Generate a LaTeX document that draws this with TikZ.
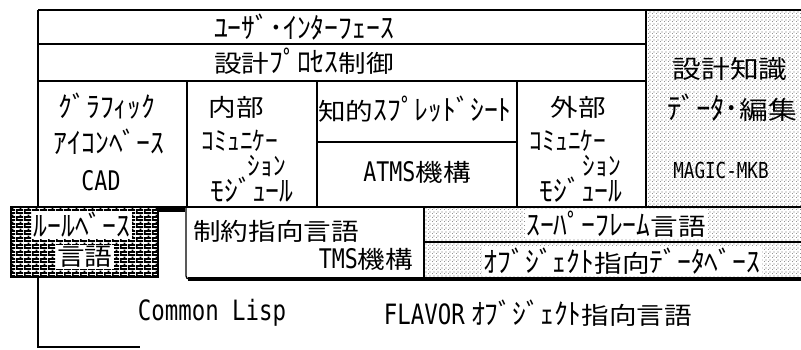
\documentclass[tikz,border=0pt]{standalone}
\usepackage{fontspec}
\usetikzlibrary{patterns}
\newfontfamily\jp[FakeStretch=1.15]{Noto Sans CJK JP}
\newfontfamily\kana[Scale=1.2,FakeStretch=0.96]{Noto Sans CJK JP}
\newfontfamily\lt[FakeStretch=0.8]{DejaVu Sans Mono}
\newcommand\jfs[1]{\jp\fontsize{#1}{#1}\selectfont}
\newcommand\lfs[1]{\lt\fontsize{#1}{#1}\selectfont}
\newcommand\K[1]{{\kana #1}}
\pgfdeclarepatternformonly{sdots}{\pgfqpoint{0pt}{0pt}}{\pgfqpoint{4pt}{4pt}}{\pgfqpoint{4pt}{4pt}}{%
  \pgfpathrectangle{\pgfqpoint{0pt}{0pt}}{\pgfqpoint{0.9pt}{0.9pt}}%
  \pgfpathrectangle{\pgfqpoint{2pt}{2pt}}{\pgfqpoint{0.9pt}{0.9pt}}%
  \pgfusepath{fill}}
\pgfdeclarepatternformonly{brk}{\pgfqpoint{0pt}{0pt}}{\pgfqpoint{8pt}{6.6pt}}{\pgfqpoint{8pt}{6.6pt}}{%
  \pgfsetlinewidth{1.9pt}%
  \pgfpathmoveto{\pgfqpoint{0pt}{0.95pt}}\pgfpathlineto{\pgfqpoint{8pt}{0.95pt}}%
  \pgfpathmoveto{\pgfqpoint{0pt}{4.25pt}}\pgfpathlineto{\pgfqpoint{8pt}{4.25pt}}%
  \pgfpathmoveto{\pgfqpoint{0.95pt}{0pt}}\pgfpathlineto{\pgfqpoint{0.95pt}{3.3pt}}%
  \pgfpathmoveto{\pgfqpoint{4.95pt}{3.3pt}}\pgfpathlineto{\pgfqpoint{4.95pt}{6.6pt}}%
  \pgfusepath{stroke}}
\tikzset{
  ln/.style={line width=1.3pt},
  thk/.style={line width=4pt},
  lbl/.style={inner sep=0pt, font=\jfs{24}},
  sml/.style={inner sep=0pt, font=\jfs{22}},
  wbg/.style={fill=white, inner sep=1.5pt},
}
\begin{document}
\begin{tikzpicture}[x=1pt,y=-1pt]
\useasboundingbox (0,0) rectangle (801,349);
% patterned areas
\fill[pattern=sdots] (646,10) rectangle (801,207);
\fill[pattern=sdots] (424,207) rectangle (801,277);
\fill[white] (11,207) rectangle (158,277);
\fill[pattern=brk] (11,207) rectangle (158,277);
\draw[ln] (11,207) rectangle (158,277);
% grid lines
\draw[ln] (38,10) -- (801,10);
\draw[ln] (38,44) -- (646,44);
\draw[ln] (38,81) -- (646,81);
\draw[line width=2pt] (38,10) -- (38,207);
\draw[ln] (187,81) -- (187,207);
\draw[ln] (317,81) -- (317,207);
\draw[ln] (517,81) -- (517,207);
\draw[ln] (646,10) -- (646,207);
\draw[ln] (317,142) -- (517,142);
\draw[ln] (38,207) -- (801,207);
\draw[ln] (424,207) -- (424,277);
\draw[ln] (424,242) -- (801,242);
% constraint box with shadow
\draw[line width=5pt] (158,209.5) -- (185,209.5);
\draw[ln, rounded corners=3pt] (186,207) -- (186,279) -- (200,279);
\draw[thk] (188,279) -- (801,279);
% Common Lisp layer
\draw[ln] (38,277) -- (38,347) -- (140,347);
% texts
\node[lbl] (ui) at (304,27) {\K{ﾕｰｻﾞ･ｲﾝﾀｰﾌｪｰｽ}};
\node[lbl] (dpc) at (304,61) {設計\K{ﾌﾟﾛｾｽ}制御};
\node[lbl] (gra) at (107,106) {\K{ｸﾞﾗﾌｨｯｸ}};
\node[lbl] (ico) at (109,142) {\K{ｱｲｺﾝﾍﾞｰｽ}};
\node[inner sep=0pt, font=\lfs{27}] (cad) at (101,181) {CAD};
\node[lbl] (nai) at (236,107) {内部};
\node[sml] (com1) at (240,141) {\K{ｺﾐｭﾆｹｰ}};
\node[sml] (sho1) at (267,166) {\K{ｼｮﾝ}};
\node[lbl] (mod1) at (252,190) {\K{ﾓｼﾞｭｰﾙ}};
\node[lbl] (chi) at (415,109) {知的\K{ｽﾌﾟﾚｯﾄﾞｼｰﾄ}};
\node[lbl] (atms) at (417,172) {{\lfs{27}ATMS}機構};
\node[lbl] (gai) at (578,107) {外部};
\node[sml] (com2) at (568,141) {\K{ｺﾐｭﾆｹｰ}};
\node[sml] (sho2) at (602,166) {\K{ｼｮﾝ}};
\node[lbl] (mod2) at (581,190) {\K{ﾓｼﾞｭｰﾙ}};
\node[lbl, font=\jfs{25}] (sek) at (730,69) {設計知識};
\node[lbl, font=\jfs{25}] (dat) at (732,108) {\K{ﾃﾞｰﾀ･}編集};
\node[inner sep=0pt, font=\lfs{22}] (mag) at (721,170) {MAGIC-MKB};
\node[lbl, wbg] (rul) at (82,225) {\K{ﾙｰﾙﾍﾞｰｽ}};
\node[lbl, wbg] (gen) at (85,257) {言語};
\node[lbl] (sei) at (276,231) {制約指向言語};
\node[lbl] (tms) at (366,259) {{\lfs{27}TMS}機構};
\node[lbl, wbg] (sup) at (616,224) {\K{ｽｰﾊﾟｰﾌﾚｰﾑ}言語};
\node[lbl, wbg] (odb) at (622,261) {\K{ｵﾌﾞｼﾞｪｸﾄ}指向\K{ﾃﾞｰﾀﾍﾞｰｽ}};
\node[inner sep=0pt, font=\lfs{28}] (cl) at (212,313) {Common Lisp};
\node[lbl] (fl) at (538,313) {{\lfs{28}FLAVOR} \K{ｵﾌﾞｼﾞｪｸﾄ}指向言語};
\end{tikzpicture}
\end{document}
